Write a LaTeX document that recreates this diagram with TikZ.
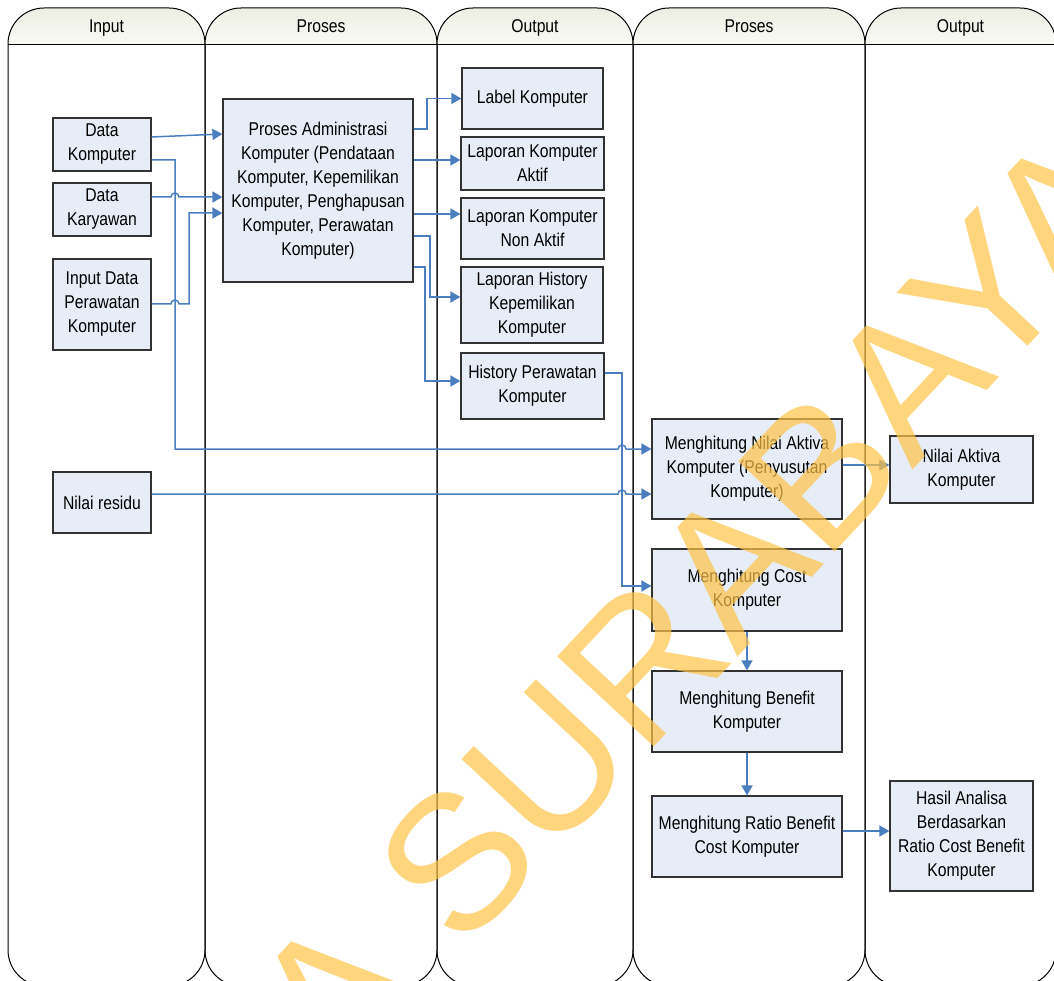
\documentclass[tikz,border=0pt]{standalone}
\usepackage{fontspec}
\setmainfont{Liberation Sans}[FakeStretch=0.85]
\newfontfamily\wmfont{Liberation Sans}
\usetikzlibrary{arrows.meta}
\definecolor{boxfill}{RGB}{231,237,247}
\definecolor{boxline}{RGB}{50,50,50}
\definecolor{flowblue}{RGB}{74,126,190}
\definecolor{hdtop}{RGB}{236,238,226}
\definecolor{hdbot}{RGB}{250,250,246}
\definecolor{wmyellow}{RGB}{255,195,70}
\newcommand\txt{\fontsize{18.5}{24}\selectfont}
\tikzset{
  box/.style={draw=boxline, fill=boxfill, line width=1.2pt, align=center, inner sep=1pt, font=\txt},
  lanehead/.style={font=\txt, anchor=base},
  flow/.style={draw=flowblue, line width=1.5pt, -{Triangle[length=10pt,width=11pt]}},
  hop/.style={start angle=180, end angle=0, radius=4pt}
}

\begin{document}
\begin{tikzpicture}[x=1pt,y=-1pt]
    \useasboundingbox (0,0) rectangle (1054,981);

    % lanes
    \foreach[count=\i] \xa/\xb/\name in {8/205/Input,205/437/Proses,437/633/Output,633/865/Proses,865/1056/Output} {
      \begin{scope}
        \clip[rounded corners=36pt] (\xa,8) rectangle (\xb,986);
        \shade[top color=hdtop,bottom color=hdbot] (\xa,8) rectangle (\xb,45);
      \end{scope}
      \draw[line width=1pt,rounded corners=36pt] (\xa,8) rectangle (\xb,986);
      \draw[line width=1pt] (\xa,45) -- (\xb,45);
      \node[lanehead] (lane\i) at ({(\xa+\xb)/2},33) {\name};
    }

    % input cells
    \node[box, minimum width=98, minimum height=53] (dk) at (102,144.5) {Data\\Komputer};
    \node[box, minimum width=98, minimum height=53] (dkar) at (102,209.5) {Data\\Karyawan};
    \node[box, minimum width=98, minimum height=91] (inp) at (102,304.5) {Input Data\\Perawatan\\Komputer};
    \node[box, minimum width=98, minimum height=61] (res) at (102,502.5) {Nilai residu};

    % first process and its outputs
    \node[box, minimum width=190, minimum height=183] (adm) at (318,190.5)
      {Proses Administrasi\\Komputer (Pendataan\\Komputer, Kepemilikan\\Komputer, Penghapusan\\Komputer, Perawatan\\Komputer)};
    \node[box, minimum width=141, minimum height=61] (lbl) at (532.5,98.5) {Label Komputer};
    \node[box, minimum width=143, minimum height=53] (akt) at (532.5,163.5) {Laporan Komputer\\Aktif};
    \node[box, minimum width=143, minimum height=61] (non) at (532.5,228.5) {Laporan Komputer\\Non Aktif};
    \node[box, minimum width=142, minimum height=76] (hist) at (532,305) {Laporan History\\Kepemilikan\\Komputer};
    \node[box, minimum width=143, minimum height=66] (hper) at (532.5,386) {History Perawatan\\Komputer};

    % second process and its outputs
    \node[box, minimum width=190, minimum height=100] (nak) at (747,469) {Menghitung Nilai Aktiva\\Komputer (Penyusutan\\Komputer)};
    \node[box, minimum width=190, minimum height=82] (cost) at (747,590) {Menghitung Cost\\Komputer};
    \node[box, minimum width=190, minimum height=81] (ben) at (747,711.5) {Menghitung Benefit\\Komputer};
    \node[box, minimum width=190, minimum height=81] (rat) at (747,836.5) {Menghitung Ratio Benefit\\Cost Komputer};
    \node[box, minimum width=143, minimum height=67] (nav) at (961.5,469.5) {Nilai Aktiva\\Komputer};
    \node[box, minimum width=143, minimum height=110] (has) at (961.5,836) {Hasil Analisa\\Berdasarkan\\Ratio Cost Benefit\\Komputer};

    % flows into the first process
    \draw[flow] (dk.east |- 0,137) -- (adm.west |- 0,134);
    \draw[flow] (dk.east |- 0,160) -- (175,160) -- (175,449) -- (618,449) arc[hop] -- (nak.west |- 0,449);
    \draw[flow] (dkar.east |- 0,197) -- (171,197) arc[hop] -- (adm.west |- 0,197);
    \draw[flow] (inp.east |- 0,304) -- (171,304) arc[hop] -- (189,304) |- (adm.west |- 0,213);

    % flows out of the first process
    \draw[flow] (adm.east |- 0,129) -- (427,129) |- (lbl.west);
    \draw[flow] (adm.east |- 0,160) -- (akt.west |- 0,160);
    \draw[flow] (adm.east |- 0,214) -- (non.west |- 0,214);
    \draw[flow] (adm.east |- 0,236) -- (430,236) |- (hist.west |- 0,297);
    \draw[flow] (adm.east |- 0,267) -- (425,267) |- (hper.west |- 0,381);

    % second process
    \draw[flow] (hper.east |- 0,373) -- (622,373) |- (cost.west |- 0,586);
    \draw[flow] (res.east |- 0,494) -- (618,494) arc[hop] -- (nak.west |- 0,494);
    \draw[flow] (nak.east |- 0,465) -- (nav.west |- 0,465);
    \draw[flow] (cost) -- (ben);
    \draw[flow] (ben) -- (rat);
    \draw[flow] (rat.east |- 0,831) -- (has.west |- 0,831);

    % watermark
    \node[text=wmyellow, opacity=0.7, rotate=47, inner sep=0,
      font=\wmfont\fontsize{192}{192}\selectfont] (wm) at (698,603) {A SURABAYA};
\end{tikzpicture}
\end{document}
